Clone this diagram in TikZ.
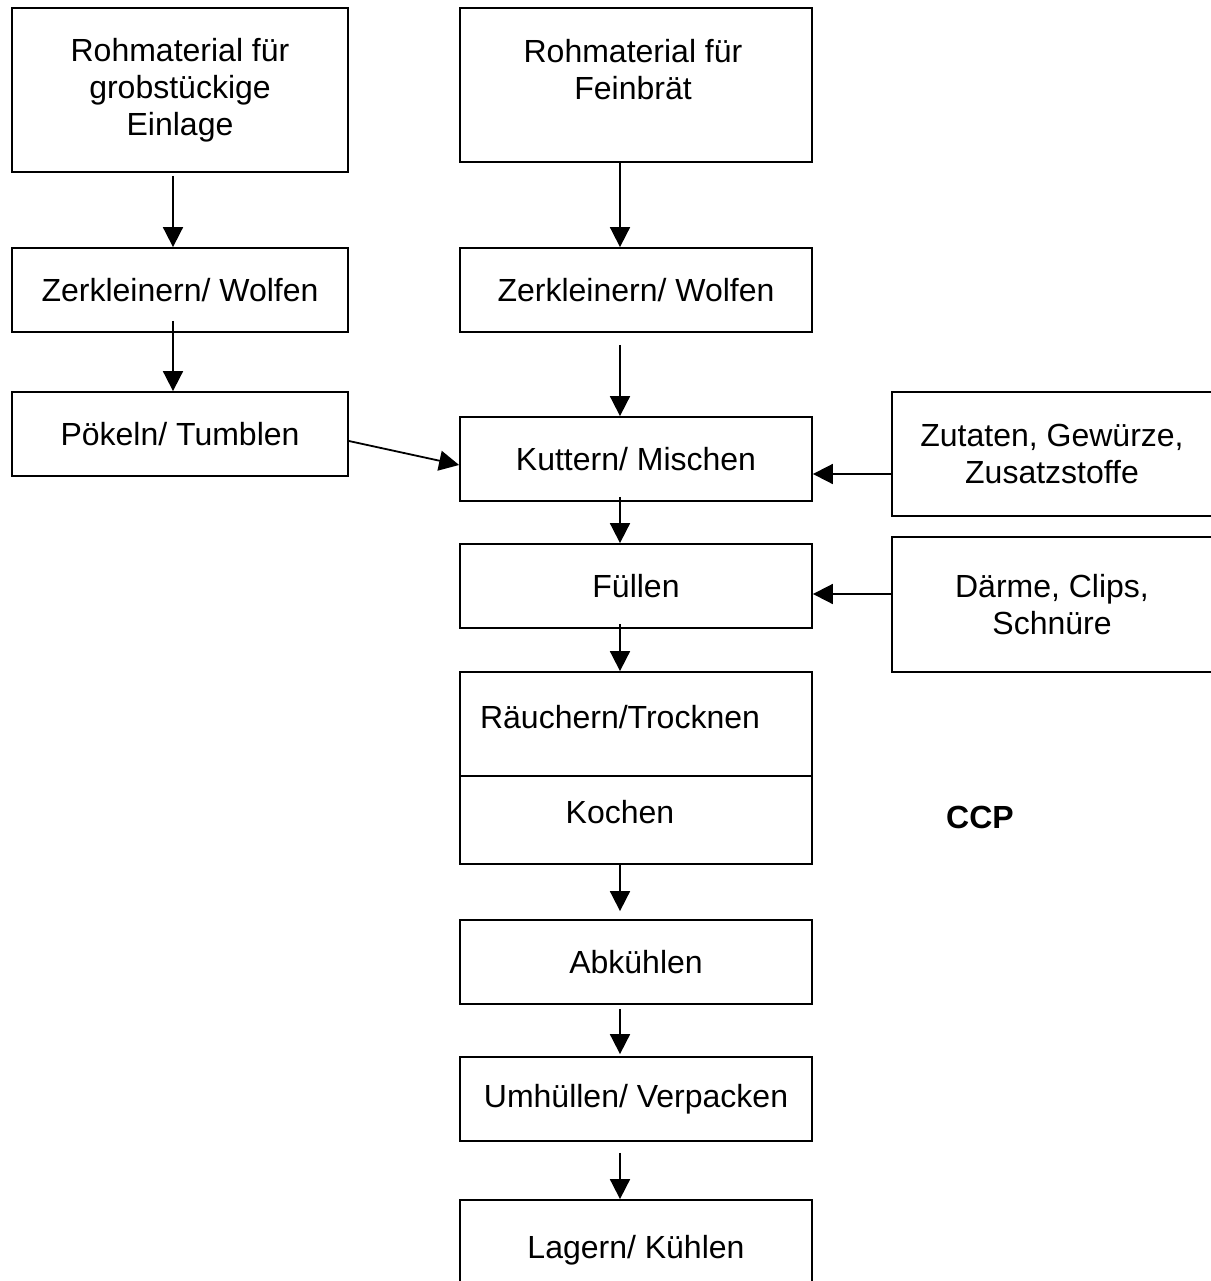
\documentclass[tikz,border=0pt]{standalone}
\usepackage{fontspec}
\setmainfont{Liberation Sans}
\usetikzlibrary{arrows.meta, positioning}

\begin{document}
\begin{tikzpicture}[
    x=1pt, y=-1pt,
    stage/.style={draw, line width=1.8pt, align=center, inner sep=0pt, font=\fontsize{32}{37}\selectfont},
    caption/.style={align=center, inner sep=0pt, font=\fontsize{32}{37}\selectfont},
    flow/.style={-{Triangle[length=20pt, width=20pt]}, line width=1.8pt},
]
  \useasboundingbox (0,0) rectangle (1210,1281);

  % spines of the two columns
  \coordinate (lsp) at (173,0);
  \coordinate (msp) at (620,0);

  % left column
  \node[stage, minimum width=336pt, minimum height=164pt] (rawcoarse) at (180,90) {Rohmaterial für \\ grobstückige \\ Einlage};
  \node[stage, minimum width=336pt, minimum height=84pt] (mincel) at (180,290) {Zerkleinern/ Wolfen};
  \node[stage, minimum width=336pt, minimum height=84pt] (cure) at (180,434) {Pökeln/ Tumblen};

  % middle column
  \node[stage, minimum width=352pt, minimum height=154pt] (rawfine) at (636,85) {};
  \node[caption] (rawfinetxt) at (633,70) {Rohmaterial für \\ Feinbrät};
  \node[stage, minimum width=352pt, minimum height=84pt] (mincem) at (636,290) {Zerkleinern/ Wolfen};
  \node[stage, minimum width=352pt, minimum height=84pt] (cutter) at (636,459) {Kuttern/ Mischen};
  \node[stage, minimum width=352pt, minimum height=84pt] (fill) at (636,586) {Füllen};
  \node[stage, minimum width=352pt, minimum height=192pt] (smoke) at (636,768) {};
  \draw[line width=1.8pt] ([yshift=-8pt]smoke.west) -- ([yshift=-8pt]smoke.east);
  \node[caption] (smoketxt) at (620,717) {Räuchern/Trocknen};
  \node[caption] (cooktxt) at (620,812) {Kochen};
  \node[stage, minimum width=352pt, minimum height=84pt] (chill) at (636,962) {Abkühlen};
  \node[stage, minimum width=352pt, minimum height=84pt] (pack) at (636,1099) {Umhüllen/ Verpacken};
  \node[stage, minimum width=352pt, minimum height=100pt] (store) at (636,1250) {Lagern/ Kühlen};

  % right column
  \node[stage, minimum width=320pt, minimum height=124pt] (spice) at (1052,454) {Zutaten, Gewürze, \\ Zusatzstoffe};
  \node[stage, minimum width=320pt, minimum height=135pt] (casing) at (1052,604.5) {Därme, Clips, \\ Schnüre};
  \node[font=\fontsize{32}{37}\selectfont\bfseries, inner sep=0pt] (ccp) at (980,817) {CCP};

  % connectors
  \draw[flow, shorten <=3pt] (rawcoarse.south -| lsp) -- (mincel.north -| lsp);
  \draw[flow, shorten <=-12pt] (mincel.south -| lsp) -- (cure.north -| lsp);
  \draw[flow] ([yshift=-7pt]cure.east) -- ([yshift=-6pt]cutter.west);
  \draw[flow] (rawfine.south -| msp) -- (mincem.north -| msp);
  \draw[flow, shorten <=12pt] (mincem.south -| msp) -- (cutter.north -| msp);
  \draw[flow, shorten <=-5pt] (cutter.south -| msp) -- (fill.north -| msp);
  \draw[flow, shorten <=-5pt] (fill.south -| msp) -- (smoke.north -| msp);
  \draw[flow, shorten >=8pt] (smoke.south -| msp) -- (chill.north -| msp);
  \draw[flow, shorten <=4pt, shorten >=2pt] (chill.south -| msp) -- (pack.north -| msp);
  \draw[flow, shorten <=11pt] (pack.south -| msp) -- (store.north -| msp);
  \draw[flow] ([yshift=-20pt]spice.west) -- ([yshift=-15pt]cutter.east);
  \draw[flow] ([yshift=10.5pt]casing.west) -- ([yshift=-8pt]fill.east);
\end{tikzpicture}
\end{document}
